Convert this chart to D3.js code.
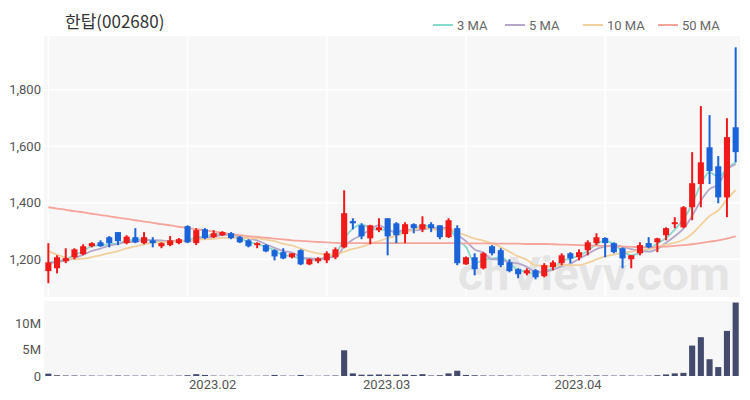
<!DOCTYPE html>
<html>
<head>
<meta charset="utf-8">
<script src="https://d3js.org/d3.v7.min.js"></script>
<style>
  body { margin: 0; background: #fff; }
  text { font-family: Roboto, "Noto Sans", sans-serif; }
</style>
</head>
<body>
<div class="chart"></div>
<script>
const dates = [
  "2023-01-03","2023-01-04","2023-01-05","2023-01-06","2023-01-09","2023-01-10","2023-01-11","2023-01-12","2023-01-13","2023-01-16",
  "2023-01-17","2023-01-18","2023-01-19","2023-01-20","2023-01-25","2023-01-26","2023-01-27","2023-01-30","2023-01-31",
  "2023-02-01","2023-02-02","2023-02-03","2023-02-06","2023-02-07","2023-02-08","2023-02-09","2023-02-10","2023-02-13","2023-02-14",
  "2023-02-15","2023-02-16","2023-02-17","2023-02-20","2023-02-21","2023-02-22","2023-02-23","2023-02-24","2023-02-27","2023-02-28",
  "2023-03-02","2023-03-03","2023-03-06","2023-03-07","2023-03-08","2023-03-09","2023-03-10","2023-03-13","2023-03-14","2023-03-15",
  "2023-03-16","2023-03-17","2023-03-20","2023-03-21","2023-03-22","2023-03-23","2023-03-24","2023-03-27","2023-03-28","2023-03-29",
  "2023-03-30","2023-03-31",
  "2023-04-03","2023-04-04","2023-04-05","2023-04-06","2023-04-07","2023-04-10","2023-04-11","2023-04-12","2023-04-13","2023-04-14",
  "2023-04-17","2023-04-18","2023-04-19","2023-04-20","2023-04-21","2023-04-24","2023-04-25","2023-04-26","2023-04-27"
];
const open = [1158,1168,1193,1207,1218,1246,1260,1278,1296,1257,1278,1257,1267,1246,1250,1257,1317,1257,1306,1278,
  1285,1292,1278,1267,1250,1250,1232,1225,1207,1232,1182,1193,1196,1207,1242,1335,1320,1274,1303,1345,
  1327,1289,1324,1306,1324,1320,1278,1310,1182,1207,1168,1246,1232,1189,1165,1150,1161,1140,1172,1186,
  1221,1207,1232,1257,1275,1257,1239,1200,1221,1257,1260,1285,1324,1313,1384,1466,1596,1529,1419,1667];
const high = [1257,1214,1239,1239,1253,1260,1267,1282,1296,1285,1310,1296,1278,1260,1282,1275,1320,1310,1310,1303,
  1299,1296,1282,1271,1260,1253,1235,1239,1221,1235,1203,1207,1228,1242,1444,1345,1327,1322,1345,1345,
  1331,1331,1327,1352,1331,1320,1345,1320,1210,1221,1225,1250,1239,1200,1168,1168,1165,1186,1196,1221,
  1225,1235,1267,1292,1278,1260,1242,1214,1260,1278,1276,1313,1349,1388,1579,1742,1710,1565,1699,1950];
const low = [1115,1150,1186,1200,1214,1242,1244,1242,1250,1253,1257,1253,1242,1239,1246,1253,1257,1250,1271,1275,
  1282,1271,1257,1242,1239,1225,1196,1200,1203,1179,1179,1186,1186,1200,1239,1306,1271,1253,1296,1214,
  1257,1257,1292,1296,1296,1271,1275,1179,1180,1143,1164,1214,1172,1154,1133,1143,1129,1136,1161,1179,
  1186,1196,1214,1250,1207,1221,1168,1168,1214,1239,1225,1267,1310,1310,1338,1384,1466,1398,1349,1543];
const close = [1189,1207,1204,1235,1246,1257,1246,1257,1264,1280,1260,1278,1257,1257,1267,1271,1260,1303,1275,1292,
  1296,1275,1260,1246,1257,1228,1210,1203,1221,1182,1200,1203,1221,1235,1363,1327,1281,1320,1313,1281,
  1285,1324,1310,1324,1310,1278,1338,1186,1207,1165,1221,1221,1179,1158,1147,1161,1136,1179,1189,1214,
  1203,1225,1260,1278,1257,1225,1203,1214,1250,1242,1274,1310,1331,1384,1469,1543,1512,1419,1632,1579];
// closes of the last sessions before the window, read back from the short averages
const priorClose = [1330,1310,1296,1220,1200,1185,1180,1190,1185];
const volume = [0.45,0.15,0.1,0.1,0.08,0.08,0.06,0.08,0.1,0.08,0.07,0.08,0.06,0.05,0.06,0.08,0.15,0.35,0.2,0.08,
  0.06,0.05,0.07,0.06,0.05,0.08,0.2,0.08,0.06,0.2,0.06,0.05,0.08,0.1,4.9,0.5,0.25,0.25,0.3,0.25,
  0.25,0.3,0.2,0.35,0.1,0.15,0.5,1.0,0.2,0.15,0.1,0.08,0.1,0.08,0.06,0.05,0.06,0.1,0.08,0.1,
  0.1,0.08,0.1,0.12,0.1,0.08,0.1,0.08,0.06,0.08,0.15,0.3,0.5,0.6,5.8,7.4,3.2,1.7,8.6,14.0];
const ma50 = [1384,1379,1375,1370,1366,1361,1356,1352,1347,1343,1338,1333,1329,1324,1320,1315,1310,1306,1302,1298,
  1294,1289,1285,1282,1279,1276,1273,1270,1267,1265,1263,1261,1260,1258,1257,1257,1257,1257,1257,1257,
  1257,1257,1257,1257,1257,1257,1257,1257,1256,1256,1256,1256,1255,1255,1255,1254,1254,1254,1253,1252,
  1251,1250,1249,1248,1247,1246,1245,1244,1243,1242,1243,1245,1247,1250,1253,1257,1262,1267,1273,1281];
const priceTicks = [1200, 1400, 1600, 1800];
const volTicks = [0, 5, 10];
const maNames = ["3 MA", "5 MA", "10 MA", "50 MA"];
const maColors = ["#86d9cd", "#b5a7c9", "#f2d09e", "#f6a59a"];

const width = 750, height = 400;
const left = 44, right = 740;

const svg = d3.select(".chart").append("svg")
  .attr("width", width).attr("height", height);

let x = d3.scaleBand().domain(d3.range(dates.length)).range([left, right]).paddingInner(0.3).paddingOuter(0.15);
let cx = i => x(i) + x.bandwidth() / 2;
let y = d3.scaleLinear().domain([1077, 1990]).range([294, 36]);
let yv = d3.scaleLinear().domain([0, 14.3]).range([376, 301]);

// panels
svg.append("rect").attr("x", left).attr("y", 36).attr("width", right - left).attr("height", 261).style("fill", "#f7f7f8");
svg.append("rect").attr("x", left).attr("y", 301).attr("width", right - left).attr("height", 75).style("fill", "#f7f7f8");

// grid
svg.append("g").selectAll("line").data([0, 16, 32, 48, 64]).enter().append("line")
  .attr("x1", d => cx(d)).attr("x2", d => cx(d)).attr("y1", 36).attr("y2", 297)
  .style("stroke", "#fff").style("stroke-width", 1.5);
svg.append("g").selectAll("line").data(priceTicks).enter().append("line")
  .attr("x1", left).attr("x2", right).attr("y1", d => y(d)).attr("y2", d => y(d))
  .style("stroke", "#fff").style("stroke-width", 1.5);

// watermark
svg.append("text").attr("x", 458).attr("y", 290)
  .attr("textLength", 272).attr("lengthAdjust", "spacingAndGlyphs")
  .style("font-size", "46px").style("font-weight", "bold").style("fill", "#e4e4e4")
  .text("chVievv.com");

// axes labels
svg.append("g").selectAll("text").data(priceTicks).enter().append("text")
  .attr("x", 41).attr("y", d => y(d) + 4.5).attr("text-anchor", "end")
  .style("font-size", "13px").style("fill", "#555")
  .text(d => d3.format(",")(d));
svg.append("g").selectAll("text").data(volTicks).enter().append("text")
  .attr("x", 41).attr("y", d => yv(d) + 4.5).attr("text-anchor", "end")
  .style("font-size", "13px").style("fill", "#555")
  .text(d => d === 0 ? "0" : d + "M");

let monthStarts = d3.range(dates.length).filter(i => i > 0 && dates[i].slice(5, 7) !== dates[i - 1].slice(5, 7));
svg.append("g").selectAll("text").data(monthStarts).enter().append("text")
  .attr("x", d => cx(d) - 1).attr("y", 389).attr("text-anchor", "middle")
  .style("font-size", "13px").style("fill", "#555")
  .text(d => dates[d].slice(0, 4) + "." + dates[d].slice(5, 7));

// moving averages (under the candles)
let allClose = priorClose.concat(close);
let ma = n => close.map((c, i) => d3.mean(allClose.slice(i + priorClose.length - n + 1, i + priorClose.length + 1)));
let maSeries = [ma(3), ma(5), ma(10), ma50];
let line = d3.line().x((d, i) => cx(i)).y(d => y(d)).curve(d3.curveMonotoneX);
maSeries.forEach((s, k) => {
  svg.append("path").datum(s).attr("d", line)
    .style("fill", "none").style("stroke", maColors[k]).style("stroke-width", 1.8);
});

// candles
let up = i => close[i] >= open[i];
let candles = svg.append("g").selectAll("g").data(d3.range(dates.length)).enter().append("g");
candles.append("line")
  .attr("x1", cx).attr("x2", cx)
  .attr("y1", i => y(high[i])).attr("y2", i => y(low[i]))
  .style("stroke", i => up(i) ? "#f11a1a" : "#1a63d9").style("stroke-width", 2);
candles.append("rect")
  .attr("x", i => x(i)).attr("width", x.bandwidth())
  .attr("y", i => y(Math.max(open[i], close[i])))
  .attr("height", i => Math.max(1.5, Math.abs(y(open[i]) - y(close[i]))))
  .style("fill", i => up(i) ? "#f11a1a" : "#1a63d9");

// volume
svg.append("g").selectAll("rect").data(d3.range(dates.length)).enter().append("rect")
  .attr("x", i => x(i)).attr("width", x.bandwidth())
  .attr("y", i => yv(volume[i])).attr("height", i => 376 - yv(volume[i]))
  .style("fill", "#444a6c");

// title
svg.append("text").attr("x", 65).attr("y", 28)
  .style("font-family", "'Noto Sans CJK KR', sans-serif").style("font-size", "17px").style("fill", "#333")
  .text("한탑(002680)");

// legend
let legendX = [433, 505, 583, 658];
let legend = svg.append("g").selectAll("g").data(maNames).enter().append("g")
  .attr("transform", (d, i) => "translate(" + legendX[i] + ",25)");
legend.append("line").attr("x1", 0).attr("x2", 20).attr("y1", 0).attr("y2", 0)
  .style("stroke", (d, i) => maColors[i]).style("stroke-width", 2);
legend.append("text").attr("x", 24).attr("y", 4.5)
  .style("font-size", "13px").style("fill", "#666")
  .text(d => d);
</script>
</body>
</html>
